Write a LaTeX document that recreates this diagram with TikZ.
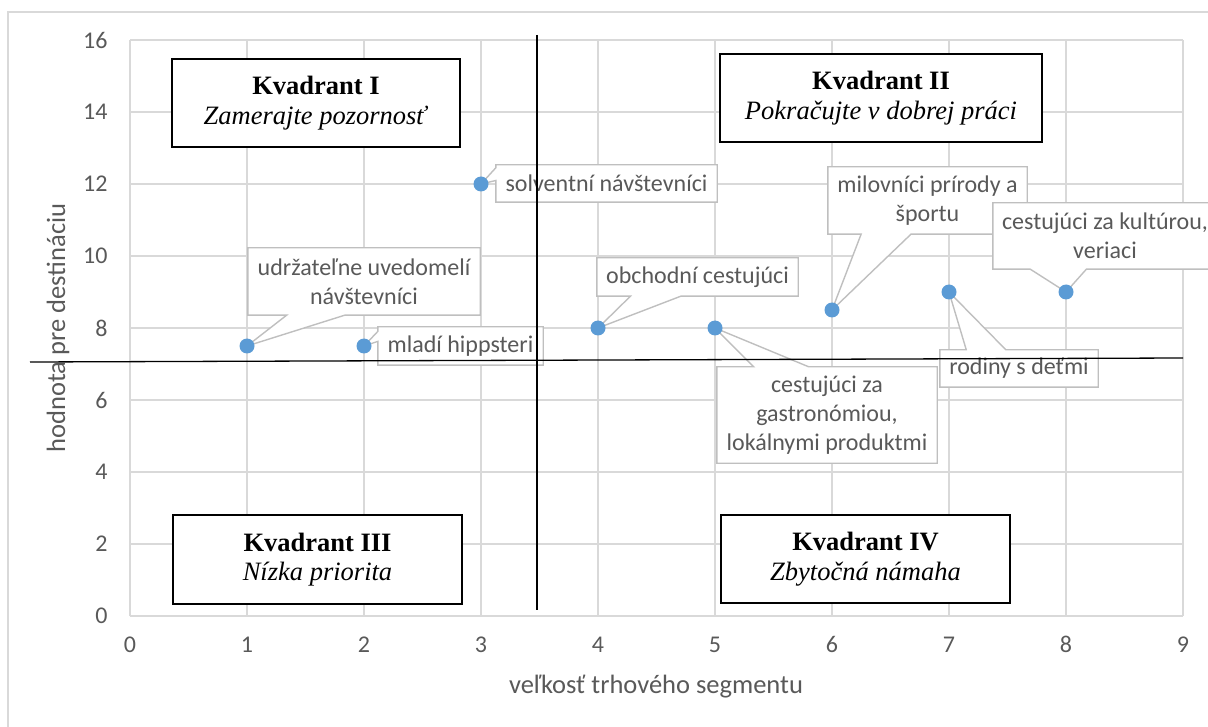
\documentclass[tikz,border=0pt]{standalone}
\usepackage{fontspec}
\setmainfont{Carlito}
\newfontfamily\timesf{Liberation Serif}
\usetikzlibrary{calc}
\definecolor{gridgray}{HTML}{D9D9D9}
\definecolor{labelgray}{HTML}{595959}
\definecolor{calloutgray}{HTML}{BFBFBF}
\definecolor{dotblue}{HTML}{5B9BD5}
\pgfdeclarelayer{back}
\pgfdeclarelayer{mid}
\pgfsetlayers{back,mid,main}

\begin{document}
\begin{tikzpicture}[x=1pt,y=-1pt,
  gridline/.style={draw=gridgray, line width=1.3pt},
  ticklabel/.style={font=\fontsize{24}{29}\selectfont, text=labelgray, inner sep=0pt},
  axistitle/.style={font=\fontsize{26.5}{32}\selectfont, text=labelgray, inner sep=0pt},
  calloutlabel/.style={font=\fontsize{24}{29}\selectfont, text=labelgray, align=center, inner sep=0pt},
  calloutline/.style={draw=calloutgray, line width=1.4pt, fill=white, line join=miter},
  quadbox/.style={draw=black, line width=1.5pt, fill=white, align=center, inner sep=0pt,
    font=\timesf\fontsize{26.5}{29.5}\selectfont},
  datapoint/.style={circle, fill=dotblue, minimum size=15pt, inner sep=0pt},
  quadline/.style={draw=black, line width=1.3pt}]

\clip (0,0) rectangle (1208,727);

% chart frame
\begin{pgfonlayer}{back}
  \draw[draw=gridgray, line width=1.3pt] (8,12) rectangle (1240,760);
\end{pgfonlayer}

% plot area in data units
\begin{scope}[shift={(130,616)}, x=117pt, y=36pt]
  \begin{pgfonlayer}{back}
    \foreach \i in {0,...,9} \draw[gridline] (\i,0) -- (\i,16);
    \foreach \j in {0,2,...,16} \draw[gridline] (0,\j) -- (9,\j);
  \end{pgfonlayer}
  \foreach \i in {0,...,9}
    \node[ticklabel] (xt\i) at (\i,-0.8) {\i};
  \foreach \j in {0,2,...,16}
    \node[ticklabel, anchor=east] (yt\j) at (-0.19,\j) {\j};

  \node[datapoint] (p1) at (1,7.5) {};
  \node[datapoint] (p2) at (2,7.5) {};
  \node[datapoint] (p3) at (3,12) {};
  \node[datapoint] (p4) at (4,8) {};
  \node[datapoint] (p5) at (5,8) {};
  \node[datapoint] (p6) at (6,8.5) {};
  \node[datapoint] (p7) at (7,9) {};
  \node[datapoint] (p8) at (8,9) {};
\end{scope}

% axis titles
\node[axistitle] (xtitle) at (656,687) {veľkosť trhového segmentu};
\node[axistitle, rotate=90] (ytitle) at (58,328) {hodnota pre destináciu};

% data label callouts
\node[calloutlabel, minimum width=221pt, minimum height=37pt] (lsolv) at (606.5,183.5) {solventní návštevníci};
\node[calloutlabel, minimum width=232pt, minimum height=67pt] (ludrz) at (364,281.5) {udržateľne uvedomelí\\návštevníci};
\node[calloutlabel, minimum width=165pt, minimum height=38pt] (lmlad) at (460.5,346) {mladí hippsteri};
\node[calloutlabel, minimum width=201pt, minimum height=38pt] (lobch) at (697.5,277) {obchodní cestujúci};
\node[calloutlabel, minimum width=220pt, minimum height=96pt] (lgast) at (827,415) {cestujúci za\\gastronómiou,\\lokálnymi produktmi};
\node[calloutlabel, minimum width=199pt, minimum height=67pt] (lmilo) at (927.5,200.5) {milovníci prírody a\\športu};
\node[calloutlabel, minimum width=224pt, minimum height=66pt] (lkult) at (1105,236) {cestujúci za kultúrou,\\veriaci};
\node[calloutlabel, minimum width=158pt, minimum height=37pt] (lrodi) at (1019,368.5) {rodiny s deťmi};

\begin{pgfonlayer}{mid}
  % pointer on the left edge
  \path[calloutline] (lsolv.north west) -- (lsolv.north east) -- (lsolv.south east) -- (lsolv.south west)
    -- ($(lsolv.north west)!0.42!(lsolv.south west)$) -- (p3.center) -- ($(lsolv.north west)!0.08!(lsolv.south west)$) -- cycle;
  % pointer on the bottom edge
  \path[calloutline] (ludrz.north west) -- (ludrz.north east) -- (ludrz.south east)
    -- ($(ludrz.south west)!0.417!(ludrz.south east)$) -- (p1.center) -- ($(ludrz.south west)!0.167!(ludrz.south east)$) -- (ludrz.south west) -- cycle;
  \path[calloutline] (lmlad.north west) -- (lmlad.north east) -- (lmlad.south east) -- (lmlad.south west)
    -- ($(lmlad.north west)!0.38!(lmlad.south west)$) -- (p2.center) -- ($(lmlad.north west)!0.12!(lmlad.south west)$) -- cycle;
  \path[calloutline] (lobch.north west) -- (lobch.north east) -- (lobch.south east)
    -- ($(lobch.south west)!0.417!(lobch.south east)$) -- (p4.center) -- ($(lobch.south west)!0.167!(lobch.south east)$) -- (lobch.south west) -- cycle;
  % pointer on the top edge
  \path[calloutline] (lgast.north west) -- ($(lgast.north west)!0.167!(lgast.north east)$) -- (p5.center)
    -- ($(lgast.north west)!0.417!(lgast.north east)$) -- (lgast.north east) -- (lgast.south east) -- (lgast.south west) -- cycle;
  \path[calloutline] (lmilo.north west) -- (lmilo.north east) -- (lmilo.south east)
    -- ($(lmilo.south west)!0.417!(lmilo.south east)$) -- (p6.center) -- ($(lmilo.south west)!0.167!(lmilo.south east)$) -- (lmilo.south west) -- cycle;
  \path[calloutline] (lkult.north west) -- (lkult.north east) -- (lkult.south east)
    -- ($(lkult.south west)!0.417!(lkult.south east)$) -- (p8.center) -- ($(lkult.south west)!0.167!(lkult.south east)$) -- (lkult.south west) -- cycle;
  \path[calloutline] (lrodi.north west) -- ($(lrodi.north west)!0.167!(lrodi.north east)$) -- (p7.center)
    -- ($(lrodi.north west)!0.417!(lrodi.north east)$) -- (lrodi.north east) -- (lrodi.south east) -- (lrodi.south west) -- cycle;
\end{pgfonlayer}

% quadrant boxes
\node[quadbox, minimum width=288pt, minimum height=88pt] (q1) at (316,103) {\textbf{Kvadrant I}\\\textit{Zamerajte pozornosť}};
\node[quadbox, minimum width=322pt, minimum height=88pt] (q2) at (881,98) {\textbf{Kvadrant II}\\\textit{Pokračujte v dobrej práci}};
\node[quadbox, minimum width=289pt, minimum height=89pt] (q3) at (317.5,559.5) {\textbf{Kvadrant III}\\\textit{Nízka priorita}};
\node[quadbox, minimum width=289pt, minimum height=88pt] (q4) at (865.5,559) {\textbf{Kvadrant IV}\\\textit{Zbytočná námaha}};

% quadrant dividers
\coordinate (vtop) at (537,35);
\coordinate (vbot) at (537,610);
\coordinate (hleft) at (30,362);
\coordinate (hright) at (1183,358);
\draw[quadline] (vtop) -- (vbot);
\draw[quadline] (hleft) -- (hright);

\end{tikzpicture}
\end{document}
